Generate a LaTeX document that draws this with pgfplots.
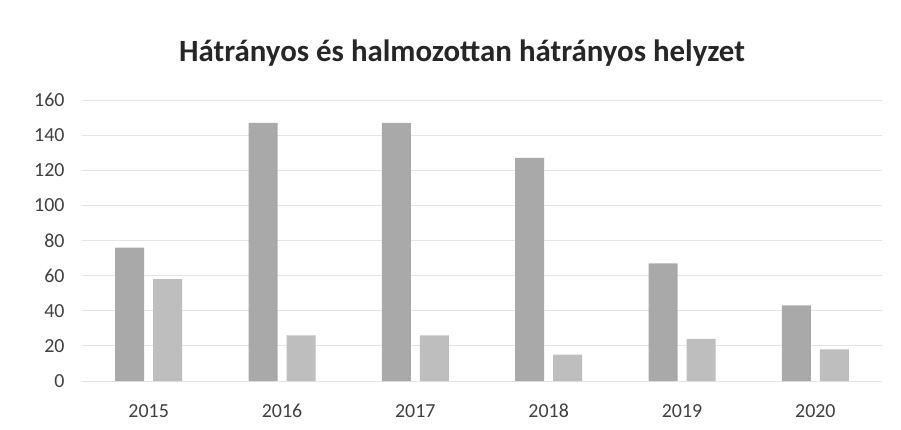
\documentclass[border=0pt]{standalone}
\usepackage{pgfplots}
\pgfplotsset{compat=1.18}
\usepackage{fontspec}
\setmainfont{Carlito}
\definecolor{barA}{HTML}{A9A9A9}
\definecolor{barB}{HTML}{BEBEBE}
\definecolor{gridc}{HTML}{E4E4E4}
\definecolor{txt}{HTML}{404040}
\begin{document}
\begin{tikzpicture}[x=1bp,y=1bp]
\path[fill=white] (0,0) rectangle (901,429);
\begin{axis}[
    at={(82bp,48bp)}, anchor=south west,
    scale only axis, width=800bp, height=281bp,
    xmin=-0.5, xmax=5.5, ymin=0, ymax=160,
    ytick={0,20,...,160},
    xtick=data,
    xticklabels={2015,2016,2017,2018,2019,2020},
    axis line style={draw=none},
    major tick length=0pt,
    ymajorgrids, grid style={gridc, line width=0.8pt},
    ticklabel style={font=\fontsize{20}{22}\selectfont, text=txt},
    /pgf/number format/assume math mode=true,
    yticklabel style={xshift=-14bp},
    xticklabel style={anchor=base, yshift=-36bp},
    ybar, bar width=29bp,
    title={\fontsize{31}{34}\selectfont\bfseries Hátrányos és halmozottan hátrányos helyzet},
    title style={text=black!85, at={(0.475,1)}, yshift=24bp},
]
\addplot[fill=barA, draw=none, bar shift=-19bp] coordinates {
    (0,76) (1,147) (2,147) (3,127) (4,67) (5,43)
};
\addplot[fill=barB, draw=none, bar shift=19bp] coordinates {
    (0,58) (1,26) (2,26) (3,15) (4,24) (5,18)
};
\end{axis}
\end{tikzpicture}
\end{document}
